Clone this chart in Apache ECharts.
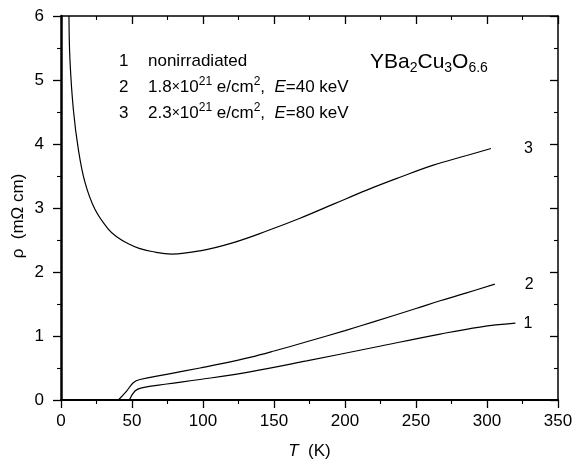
<!DOCTYPE html>
<html><head><meta charset="utf-8">
<script src="https://cdn.jsdelivr.net/npm/echarts@6/dist/echarts.min.js"></script>
<style>html,body{margin:0;padding:0;background:#fff}#c{width:573px;height:461px}</style>
</head><body><div id="c"></div>
<script>
// Curve 3: 2.3e21 e/cm2, E=80 keV
var T3 = [5.6, 6.3, 8.7, 12.2, 16.9, 23.9, 33.3, 39.2, 47.4, 55, 63.9, 78, 97.9, 121.4, 144.8, 168.3, 191.8, 215.3, 238.7, 262.2, 285.7, 302.8];
var rho3 = [6.0, 5.32, 4.54, 3.92, 3.40, 2.98, 2.67, 2.55, 2.44, 2.37, 2.32, 2.28, 2.33, 2.46, 2.64, 2.84, 3.06, 3.28, 3.48, 3.67, 3.82, 3.93];
// Curve 2: 1.8e21 e/cm2, E=40 keV
var T2 = [40.4, 46.2, 50.9, 55.6, 74.4, 97.9, 115, 133, 150, 173, 200, 220, 250, 267, 285, 305.5];
var rho2 = [0, 0.14, 0.27, 0.32, 0.40, 0.50, 0.575, 0.665, 0.765, 0.91, 1.085, 1.22, 1.43, 1.55, 1.67, 1.81];
// Curve 1: nonirradiated
var T1 = [48.1, 52.1, 56.8, 74.4, 97.9, 133, 173, 220, 267, 295, 320];
var rho1 = [0, 0.14, 0.19, 0.25, 0.32, 0.44, 0.61, 0.82, 1.03, 1.14, 1.2];
var curveLabels = ['1', '2', '3'];

function pairs(a, b) { return a.map(function (v, i) { return [v, b[i]]; }); }
var FONT = 'Liberation Sans, Arial, sans-serif';
var chart = echarts.init(document.getElementById('c'), null, {renderer: 'canvas'});

function ser(T, r, lab, dist) {
  return {
    type: 'line', xAxisIndex: 0, yAxisIndex: 0, data: pairs(T, r), showSymbol: false,
    smooth: 0.4,
    lineStyle: {color: '#000', width: 1.2}, silent: true, animation: false,
    endLabel: {show: true, formatter: lab, distance: dist, color: '#000', fontSize: 16, fontFamily: FONT}
  };
}

var labelStyle = {color: '#000', fontSize: 17, fontFamily: FONT};
function axisCommon(inside, lw) {
  return {
    axisLine: {show: true, onZero: false, lineStyle: {color: '#000', width: lw}},
    axisTick: {show: true, inside: inside, length: 8, lineStyle: {color: '#000', width: 1.3}},
    minorTick: {show: true, splitNumber: 2, length: 4, lineStyle: {color: '#000', width: 1.1}},
    splitLine: {show: false}, minorSplitLine: {show: false}
  };
}
var richSup = {m: {fontSize: 14, fontFamily: FONT}, s: {fontSize: 12, fontFamily: FONT, padding: [0, 0, 10, 0]}, i: {fontStyle: 'italic', fontSize: 17, fontFamily: FONT}};

chart.setOption({
  animation: false,
  grid: {left: 61, right: 15, top: 16, bottom: 61, containLabel: false, outerBoundsMode: 'none'},
  xAxis: [
    Object.assign({type: 'value', min: 0, max: 350, interval: 50, position: 'bottom',
     axisLabel: Object.assign({margin: 13}, labelStyle),
     name: '{i|T}  (K)', nameLocation: 'middle', nameGap: 43,
     nameTextStyle: {fontSize: 17, fontFamily: FONT, color: '#000', rich: {i: {fontStyle: 'italic', fontSize: 17, fontFamily: FONT}}}
    }, axisCommon(false, 2)),
    Object.assign({type: 'value', min: 0, max: 350, interval: 50, position: 'top',
     axisLabel: {show: false}}, axisCommon(true, 1.5))
  ],
  yAxis: [
    Object.assign({type: 'value', min: 0, max: 6, interval: 1, position: 'left',
     axisLabel: Object.assign({margin: 17}, labelStyle)
    }, axisCommon(false, 2.5)),
    Object.assign({type: 'value', min: 0, max: 6, interval: 1, position: 'right',
     axisLabel: {show: false}}, axisCommon(true, 1.5))
  ],
  series: [
    ser(T1, rho1, curveLabels[0], 8),
    ser(T2, rho2, curveLabels[1], 30),
    ser(T3, rho3, curveLabels[2], 33)
  ],
  graphic: [
    {type: 'text', x: 18, y: 216, rotation: Math.PI / 2, style: {text: 'ρ  (mΩ cm)', font: '17px ' + FONT, fill: '#000', align: 'center', verticalAlign: 'middle'}},
    {type: 'text', x: 119, y: 61, style: {text: '1', font: '17px ' + FONT, fill: '#000', verticalAlign: 'middle'}},
    {type: 'text', x: 148, y: 61, style: {text: 'nonirradiated', font: '17px ' + FONT, fill: '#000', verticalAlign: 'middle'}},
    {type: 'text', x: 119, y: 87, style: {text: '2', font: '17px ' + FONT, fill: '#000', verticalAlign: 'middle'}},
    {type: 'text', x: 148, y: 87, style: {
      text: '1.8{m|×}10{s|21} e/cm{s|2},  {i|E}=40 keV', font: '17px ' + FONT, fill: '#000', verticalAlign: 'middle', rich: richSup}},
    {type: 'text', x: 119, y: 113, style: {text: '3', font: '17px ' + FONT, fill: '#000', verticalAlign: 'middle'}},
    {type: 'text', x: 148, y: 113, style: {
      text: '2.3{m|×}10{s|21} e/cm{s|2},  {i|E}=80 keV', font: '17px ' + FONT, fill: '#000', verticalAlign: 'middle', rich: richSup}},
    {type: 'text', x: 370, y: 62, style: {
      text: 'YBa{b|2}Cu{b|3}O{b|6.6}', font: '21px ' + FONT, fill: '#000', verticalAlign: 'middle',
      rich: {b: {fontSize: 14, fontFamily: FONT, padding: [12, 0, 0, 0]}}}}
  ]
});
</script></body></html>
